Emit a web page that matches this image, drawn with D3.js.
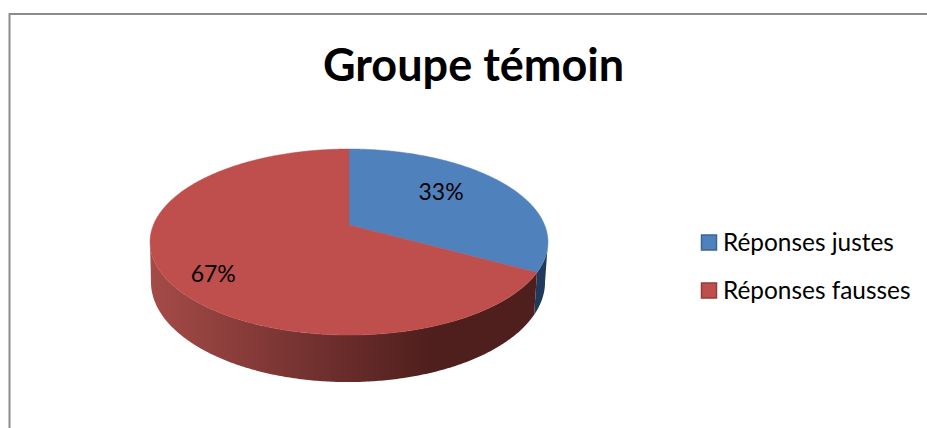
<!DOCTYPE html>
<html>
<head>
<meta charset="utf-8">
<script src="https://cdn.jsdelivr.net/npm/d3@7"></script>
<style>
    html, body { margin: 0; padding: 0; background: #fff; overflow: hidden; }
    svg { display: block; }
    text { font-family: Lato, Carlito, "Open Sans", sans-serif; fill: #000; }
</style>
</head>
<body>
<div id="chart"></div>
<script>
const title = "Groupe témoin";
const categories = ["Réponses justes", "Réponses fausses"];
const values = [33, 67];
const topColors = ["#4f81bd", "#be4f4c"];
const sideColors = ["#1f3a5c", "url(#redSide)"];
const legendBorders = ["#3a6595", "#933c3a"];

const width = 927;
const height = 428;

// The pie is tilted in perspective, so the centre is not the middle of the ellipse
const tilt = 0.183;
const topDisc = { cx: 349, cy: 225, rx: 195.6, ry: 89.9 };
const bottomDisc = { cx: 348, cy: 263.7, rx: 193.7, ry: 96.7 };

// Nudge from the projected point to where the label sits
const labelNudge = [[-26, -2], [0, 11]];

function project(disc, angle, r = 1) {
    const u = Math.sin(angle) * r;
    const v = Math.cos(angle) * r;
    const w = 1 + tilt * v;
    return [disc.cx + disc.rx * u / w, disc.cy - disc.ry * v / w];
}

function sampleArc(disc, from, to) {
    const n = Math.max(2, Math.ceil(Math.abs(to - from) / 0.01));
    return d3.range(n + 1).map(i => project(disc, from + (to - from) * i / n));
}

const svg = d3.select("#chart").append("svg")
    .attr("width", width)
    .attr("height", height);

const gradient = svg.append("defs").append("linearGradient")
    .attr("id", "redSide")
    .attr("gradientUnits", "userSpaceOnUse")
    .attr("x1", 150).attr("y1", 0)
    .attr("x2", 540).attr("y2", 0);
gradient.append("stop").attr("offset", "0%").attr("stop-color", "#a54b48");
gradient.append("stop").attr("offset", "40%").attr("stop-color", "#743230");
gradient.append("stop").attr("offset", "72%").attr("stop-color", "#4f1f1d");
gradient.append("stop").attr("offset", "100%").attr("stop-color", "#4f1f1d");

// chart frame, it runs off the picture on the right and at the bottom
svg.append("rect")
    .attr("x", 9.5)
    .attr("y", 14)
    .attr("width", width + 20)
    .attr("height", height + 20)
    .attr("fill", "#fff")
    .attr("stroke", "#8c8c8c")
    .attr("stroke-width", 2);

svg.append("text")
    .attr("x", 473.5)
    .attr("y", 81)
    .attr("text-anchor", "middle")
    .attr("font-size", 45)
    .attr("font-weight", 700)
    .text(title);

const slices = d3.pie().sort(null)(values);
const line = d3.line();

// side wall, only the front of each slice can be seen: it stops where the disc outline turns back
const frontFrom = Math.acos(-tilt);
const frontTo = Math.PI * 2 - frontFrom;

svg.append("g")
    .selectAll("path")
    .data(slices)
    .enter().append("path")
    .attr("fill", (d, i) => sideColors[i])
    .attr("d", d => {
        const from = Math.max(d.startAngle, frontFrom);
        const to = Math.min(d.endAngle, frontTo);
        return line(sampleArc(topDisc, from, to).concat(sampleArc(bottomDisc, to, from))) + "Z";
    });

svg.append("g")
    .selectAll("path")
    .data(slices)
    .enter().append("path")
    .attr("fill", (d, i) => topColors[i])
    .attr("stroke", (d, i) => topColors[i])
    .attr("stroke-width", 0.5)
    .attr("d", d => line([[topDisc.cx, topDisc.cy]].concat(sampleArc(topDisc, d.startAngle, d.endAngle))) + "Z");

svg.append("g")
    .selectAll("text")
    .data(slices)
    .enter().append("text")
    .attr("x", (d, i) => project(topDisc, (d.startAngle + d.endAngle) / 2, 0.75)[0] + labelNudge[i][0])
    .attr("y", (d, i) => project(topDisc, (d.startAngle + d.endAngle) / 2, 0.75)[1] + labelNudge[i][1])
    .attr("text-anchor", "middle")
    .attr("dominant-baseline", "central")
    .attr("font-size", 23)
    .text(d => d.value + "%");

const legendY = d3.scalePoint().domain(categories).range([242.5, 290.5]);

const legend = svg.append("g")
    .selectAll("g")
    .data(categories)
    .enter().append("g")
    .attr("transform", d => `translate(701, ${legendY(d)})`);

legend.append("rect")
    .attr("x", 0.5)
    .attr("y", -7.5)
    .attr("width", 15)
    .attr("height", 15)
    .attr("fill", (d, i) => topColors[i])
    .attr("stroke", (d, i) => legendBorders[i])
    .attr("stroke-width", 1.5);

legend.append("text")
    .attr("x", 22)
    .attr("y", 8)
    .attr("font-size", 24.4)
    .text(d => d);
</script>
</body>
</html>
